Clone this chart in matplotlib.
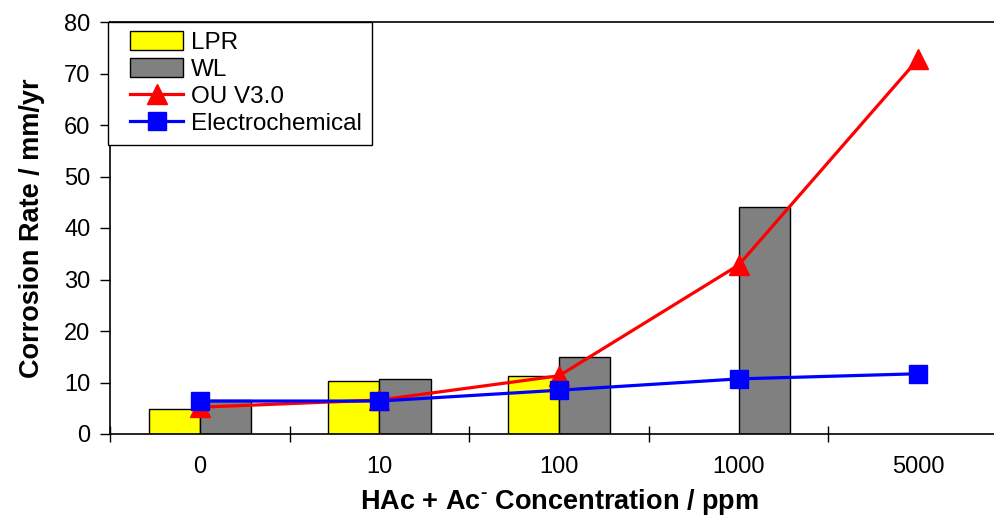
import numpy as np
import matplotlib
matplotlib.use("Agg")
import matplotlib.pyplot as plt
from matplotlib.patches import Patch, Rectangle
from matplotlib.lines import Line2D

plt.rcParams['font.family'] = ['Liberation Sans', 'DejaVu Sans']
plt.rcParams['mathtext.fontset'] = 'custom'
plt.rcParams['mathtext.rm'] = 'Liberation Sans:bold'
plt.rcParams['mathtext.bf'] = 'Liberation Sans:bold'

# Data
concentrations = ["0", "10", "100", "1000", "5000"]
lpr = [4.9, 10.3, 11.3, np.nan, np.nan]
wl = [6.6, 10.7, 15.0, 44.0, np.nan]
ou_v30 = [5.2, 6.6, 11.3, 32.8, 72.8]
electrochemical = [6.4, 6.4, 8.5, 10.7, 11.7]

W, H = 995, 516
fig = plt.figure(figsize=(W / 100, H / 100), dpi=100)
ax = fig.add_axes([110 / W, (H - 434) / H, 898 / W, 412 / H])

x = np.arange(len(concentrations))
bw = 0.285
ax.bar(x - bw / 2, lpr, width=bw, color="#ffff00", edgecolor="black", linewidth=1.0, zorder=2)
ax.bar(x + bw / 2, wl, width=bw, color="#808080", edgecolor="black", linewidth=1.0, zorder=2)

ax.plot(x, ou_v30, color="#ff0000", linewidth=2.3, marker="^", markersize=14, zorder=4)
ax.plot(x, electrochemical, color="#0000ff", linewidth=2.3, marker="s", markersize=12.5, zorder=6)

ax.set_xlim(-0.5, len(concentrations) - 0.5)
ax.set_ylim(0, 80)

# category boundaries carry the tick marks, centres carry the labels
ax.set_xticks(np.arange(-0.5, len(concentrations) + 0.5, 1.0))
ax.set_xticklabels([])
ax.set_xticks(x, minor=True)
ax.set_xticklabels(concentrations, minor=True, fontsize=17)
ax.tick_params(axis="x", which="major", direction="inout", length=12, width=1.0)
ax.tick_params(axis="x", which="minor", length=0, pad=16)
ax.set_yticks(np.arange(0, 81, 10))
ax.tick_params(axis="y", direction="out", length=7, width=1.0, labelsize=17, pad=7)

for side in ["left", "bottom", "top"]:
    ax.spines[side].set_color("black")
    ax.spines[side].set_linewidth(1.2)
ax.spines["right"].set_visible(False)

ax.set_ylabel("Corrosion Rate / mm/yr", fontsize=19.5, fontweight="bold", labelpad=14)
ax.set_xlabel(r"HAc + Ac$^{\text{-}}$ Concentration / ppm", fontsize=19.5,
              fontweight="bold", labelpad=6)

# legend box with generous inner margin
frame = Rectangle((108 / W, (H - 145) / H), 264 / W, 123 / H, transform=fig.transFigure,
                  facecolor="white", edgecolor="black", linewidth=1.0, zorder=9, clip_on=False)
ax.add_patch(frame)

handles = [
    Patch(facecolor="#ffff00", edgecolor="black", linewidth=1.0),
    Patch(facecolor="#808080", edgecolor="black", linewidth=1.0),
    Line2D([], [], color="#ff0000", linewidth=2.3, marker="^", markersize=14),
    Line2D([], [], color="#0000ff", linewidth=2.3, marker="s", markersize=12.5),
]
leg = ax.legend(handles, ["LPR", "WL", "OU V3.0", "Electrochemical"],
                loc="upper left", bbox_to_anchor=(20 / 898, (434 - 31) / 412),
                borderaxespad=0, borderpad=0, fontsize=17.5, frameon=False,
                handlelength=2.2, handleheight=0.8, handletextpad=0.3, labelspacing=0.18)
leg.set_zorder(10)

fig.savefig("out.png", dpi=100)
